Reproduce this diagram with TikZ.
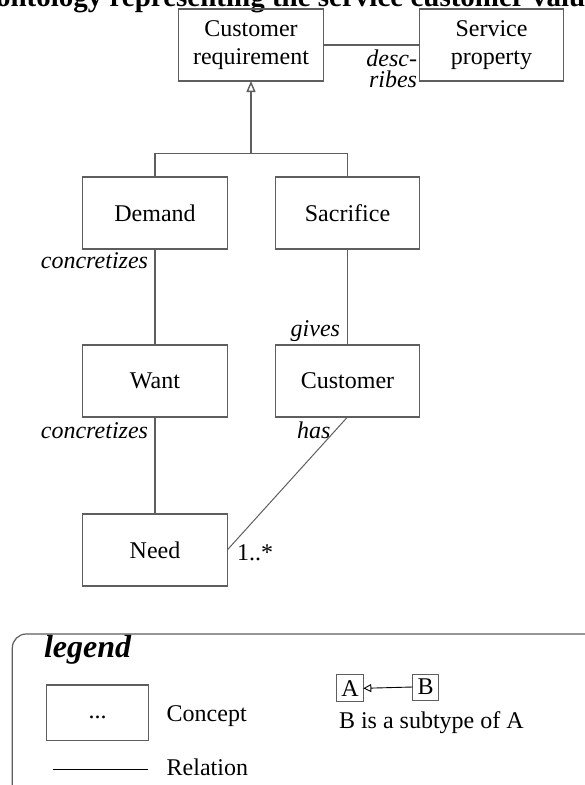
\documentclass[tikz,border=0pt]{standalone}
\usepackage{fontspec}
\setmainfont{Liberation Serif}
\usetikzlibrary{arrows.meta}

\definecolor{linegray}{HTML}{5E5E5E}

\begin{document}
\begin{tikzpicture}[x=1pt, y=-1pt,
  every node/.style={inner sep=0pt, outer sep=0pt, font=\fontsize{24}{28}\selectfont},
  concept/.style={draw=linegray, line width=1.4pt, minimum width=144.5pt, minimum height=72pt, align=center},
  relation/.style={draw=linegray, line width=1.4pt},
  rolelabel/.style={font=\fontsize{24}{28}\selectfont\itshape},
  subtype/.style={-{Triangle[open, length=11pt, width=9pt]}},
]
\useasboundingbox (0,0) rectangle (585,785);

% heading (runs past the page edges)
\node[anchor=base west, font=\fontsize{29}{33}\selectfont\bfseries] (title) at (-4,6)
  {ontology representing the service customer value};

% concepts
\node[concept] (cr)   at (251,45)    {Customer\\requirement};
\node[concept] (sp)   at (491.5,45)  {Service\\property};
\node[concept] (dem)  at (155,213)   {Demand};
\node[concept] (sac)  at (347.5,213) {Sacrifice};
\node[concept] (want) at (155,381)   {Want};
\node[concept] (cust) at (347.5,381) {Customer};
\node[concept] (need) at (155,550)   {Need};

% subtype hierarchy
\coordinate (hub) at (251,153.3);
\draw[relation] (dem.north) |- (hub) -| (sac.north);
\draw[relation, subtype] (hub) -- (cr.south);

% relations
\draw[relation] (cr.east) -- (sp.west);
\draw[relation] (dem.south) -- (want.north);
\draw[relation] (sac.south) -- (cust.north);
\draw[relation] (want.south) -- (need.north);
\draw[draw=linegray, line width=1pt] (cust.south) -- (need.east);

% relation labels
\node[rolelabel, anchor=base east, text depth=0pt] (ldesc) at (417,66) {desc-};
\node[rolelabel, anchor=base east, text height=12pt] (lribes) at (417,87) {ribes};
\node[rolelabel, anchor=base east] (lconc1) at (148,268) {concretizes};
\node[rolelabel, anchor=base east] (lgives) at (340,336) {gives};
\node[rolelabel, anchor=base east] (lconc2) at (148,438) {concretizes};
\node[rolelabel, anchor=base west] (lhas)   at (297,438) {has};
\node[anchor=base west] (lmult) at (237,560) {1..*};

% legend frame (continues past the page edges)
\draw[draw=linegray, line width=1.2pt, rounded corners=14pt] (12.3,634) rectangle (640,840);
\node[anchor=base west, font=\fontsize{32}{36}\selectfont\bfseries\itshape] (legtitle) at (44,657) {legend};

\node[draw=linegray, line width=1.2pt, minimum width=101.6pt, minimum height=55.7pt,
      text height=12pt, text depth=0pt] (legbox) at (97.5,712.9) {...};
\node[anchor=base west] (legconcept) at (166.7,721.7) {Concept};

\coordinate (relA) at (52.7,769);
\coordinate (relB) at (148.3,769);
\draw[black, line width=0.9pt] (relA) -- (relB);
\node[anchor=base west] (legrelation) at (166.7,775) {Relation};

\node[draw=linegray, line width=1pt, minimum width=26.6pt, minimum height=26.7pt] (la) at (350,688.3) {A};
\node[draw=linegray, line width=1pt, minimum width=25.6pt, minimum height=26pt]   (lb) at (425.5,687) {B};
\draw[black, line width=0.9pt, -{Triangle[open, length=8pt, width=8pt]}] (lb.west) -- (la.east);
\node[anchor=base west] (legsub) at (339,728) {B is a subtype of A};
\end{tikzpicture}
\end{document}
